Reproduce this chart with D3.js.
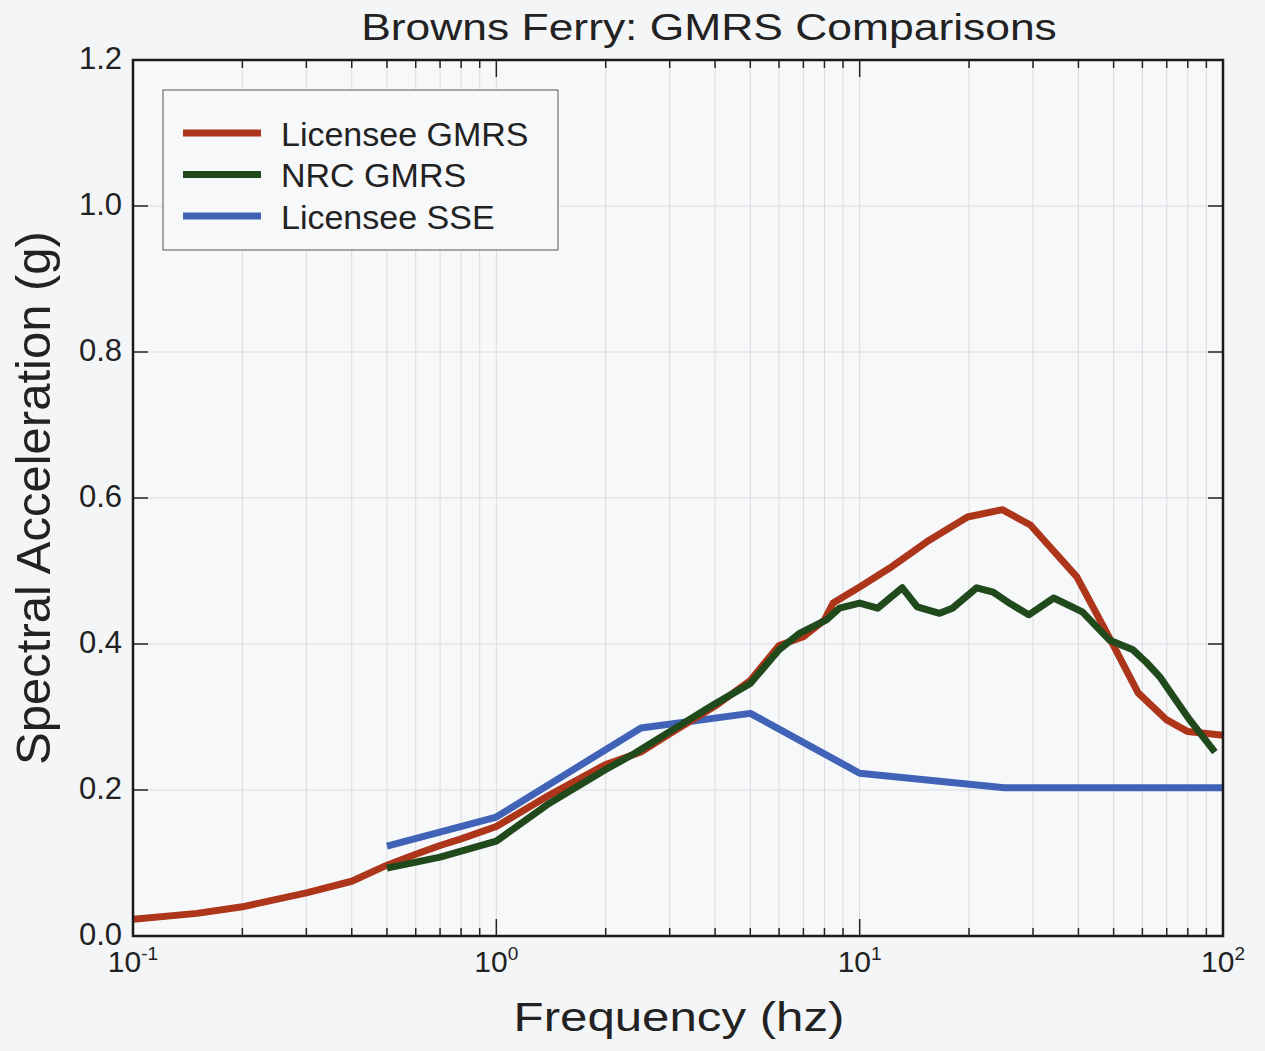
<!DOCTYPE html>
<html><head><meta charset="utf-8">
<script src="https://cdn.jsdelivr.net/npm/d3@7"></script>
<style>body{margin:0;background:#f4f5f7;} svg{display:block;}</style>
</head><body>
<script>
const title = "Browns Ferry: GMRS Comparisons";
const xLabel = "Frequency (hz)";
const yLabel = "Spectral Acceleration (g)";
const seriesNames = ["Licensee GMRS", "NRC GMRS", "Licensee SSE"];
const seriesColors = ["#ad3519", "#214a1c", "#4063b8"];
const yTicks = [0.0, 0.2, 0.4, 0.6, 0.8, 1.0, 1.2];
const xTickExps = [-1, 0, 1, 2];

const licFreq = [0.1, 0.15, 0.2, 0.3, 0.4, 0.5, 0.6, 0.7, 0.8, 1.0, 1.4, 2.0, 2.5, 3.0, 4.0, 5.0, 6.0, 7.0, 8.0, 8.45, 10, 12.1, 15.3, 19.8, 24.7, 29.5, 39.6, 48.5, 58.4, 70, 80, 100];
const licVal  = [0.023, 0.031, 0.040, 0.059, 0.075, 0.097, 0.112, 0.124, 0.133, 0.150, 0.193, 0.235, 0.252, 0.277, 0.315, 0.350, 0.398, 0.410, 0.433, 0.456, 0.478, 0.504, 0.540, 0.574, 0.584, 0.563, 0.492, 0.410, 0.333, 0.296, 0.280, 0.275];

const nrcFreq = [0.5, 0.7, 1.0, 1.4, 2.0, 2.4, 3.0, 4.0, 5.0, 6.0, 6.85, 8.1, 8.8, 10, 11.2, 13.1, 14.4, 16.6, 18, 21, 23.3, 26, 29.2, 34.2, 41, 48.8, 56.5, 61.5, 67, 73, 81, 95];
const nrcVal  = [0.093, 0.108, 0.130, 0.182, 0.228, 0.250, 0.280, 0.318, 0.346, 0.392, 0.415, 0.433, 0.449, 0.456, 0.449, 0.477, 0.451, 0.442, 0.449, 0.477, 0.471, 0.455, 0.440, 0.463, 0.444, 0.405, 0.392, 0.375, 0.355, 0.328, 0.296, 0.252];

const sseFreq = [0.5, 1.0, 2.5, 5.0, 10, 25, 100];
const sseVal  = [0.123, 0.163, 0.285, 0.305, 0.223, 0.203, 0.203];

const W = 1265, H = 1051;
const m = {left: 133, top: 60, right: 1223, bottom: 936};
const svg = d3.select("body").append("svg").attr("width", W).attr("height", H)
  .style("font-family", "'Liberation Sans', Arial, sans-serif");

const x = d3.scaleLog().domain([0.1, 100]).range([m.left, m.right]);
const y = d3.scaleLinear().domain([0, 1.2]).range([m.bottom, m.top]);

svg.append("rect").attr("x", m.left).attr("y", m.top).attr("width", m.right - m.left).attr("height", m.bottom - m.top).attr("fill", "#f7f8fa");

const xMinor = [];
for (let e = -1; e < 2; e++) for (let k = 1; k <= 9; k++) xMinor.push(k * Math.pow(10, e));
xMinor.push(100);

const grid = svg.append("g");
grid.selectAll("line.vx").data(xMinor.filter(v => v > 0.1 && v < 100)).join("line")
  .attr("x1", d => x(d)).attr("x2", d => x(d)).attr("y1", m.top).attr("y2", m.bottom)
  .attr("stroke", "#d9dbde").attr("stroke-width", 1);
grid.selectAll("line.hy").data(yTicks.filter(v => v > 0 && v < 1.2)).join("line")
  .attr("x1", m.left).attr("x2", m.right).attr("y1", d => y(d)).attr("y2", d => y(d))
  .attr("stroke", "#d9dbde").attr("stroke-width", 1);

const tk = svg.append("g").attr("stroke", "#222").attr("stroke-width", 1.5);
xMinor.forEach(v => {
  const major = Math.abs(Math.log10(v) - Math.round(Math.log10(v))) < 1e-9;
  const len = major ? 17 : 8;
  tk.append("line").attr("x1", x(v)).attr("x2", x(v)).attr("y1", m.bottom).attr("y2", m.bottom - len);
  tk.append("line").attr("x1", x(v)).attr("x2", x(v)).attr("y1", m.top).attr("y2", m.top + len);
});
yTicks.forEach(v => {
  tk.append("line").attr("x1", m.left).attr("x2", m.left + 15).attr("y1", y(v)).attr("y2", y(v));
  tk.append("line").attr("x1", m.right).attr("x2", m.right - 15).attr("y1", y(v)).attr("y2", y(v));
});

const line = d3.line().x(d => x(d[0])).y(d => y(d[1]));
const series = [
  {f: licFreq, v: licVal, c: seriesColors[0]},
  {f: nrcFreq, v: nrcVal, c: seriesColors[1]},
  {f: sseFreq, v: sseVal, c: seriesColors[2]}
];
svg.append("clipPath").attr("id", "clip").append("rect")
  .attr("x", m.left).attr("y", m.top).attr("width", m.right - m.left).attr("height", m.bottom - m.top);
const lines = svg.append("g").attr("clip-path", "url(#clip)");
[2, 0, 1].forEach(i => {
  const s = series[i];
  lines.append("path").datum(s.f.map((f, j) => [f, s.v[j]]))
    .attr("d", line).attr("fill", "none").attr("stroke", s.c).attr("stroke-width", 7)
    .attr("stroke-linejoin", "round");
});

svg.append("rect").attr("x", m.left).attr("y", m.top).attr("width", m.right - m.left).attr("height", m.bottom - m.top)
  .attr("fill", "none").attr("stroke", "#1a1a1a").attr("stroke-width", 2.5);

// y tick labels
svg.append("g").selectAll("text").data(yTicks).join("text")
  .attr("x", m.left - 11).attr("y", d => y(d) + 9).attr("text-anchor", "end")
  .attr("font-size", 31).attr("fill", "#222").text(d => d.toFixed(1));

// x tick labels
const xg = svg.append("g").attr("fill", "#222");
xTickExps.forEach(e => {
  const px = x(Math.pow(10, e));
  const t = xg.append("text").attr("x", px).attr("y", 972).attr("text-anchor", "middle")
    .attr("font-size", 30);
  t.append("tspan").text("10");
  t.append("tspan").attr("dy", -12).attr("font-size", 19).text(String(e));
});

// title & labels
svg.append("text").attr("transform", "translate(709,40) scale(1.2,1)").attr("text-anchor", "middle")
  .attr("font-size", 37).attr("fill", "#222").text(title);
svg.append("text").attr("transform", "translate(679,1031) scale(1.23,1)").attr("text-anchor", "middle")
  .attr("font-size", 40).attr("fill", "#222").text(xLabel);
svg.append("text").attr("transform", "translate(50,498) rotate(-90)").attr("text-anchor", "middle")
  .attr("font-size", 49).attr("fill", "#222").text(yLabel);

// legend
const lg = svg.append("g");
lg.append("rect").attr("x", 163).attr("y", 90).attr("width", 395).attr("height", 160)
  .attr("fill", "#f7f8fa").attr("stroke", "#555").attr("stroke-width", 1);
seriesNames.forEach((n, i) => {
  const yy = 133 + i * 41.5;
  lg.append("line").attr("x1", 183).attr("x2", 261).attr("y1", yy).attr("y2", yy)
    .attr("stroke", seriesColors[i]).attr("stroke-width", 7);
  lg.append("text").attr("x", 281).attr("y", yy + 12.5).attr("font-size", 34).attr("fill", "#222").text(n);
});
</script>
</body></html>
